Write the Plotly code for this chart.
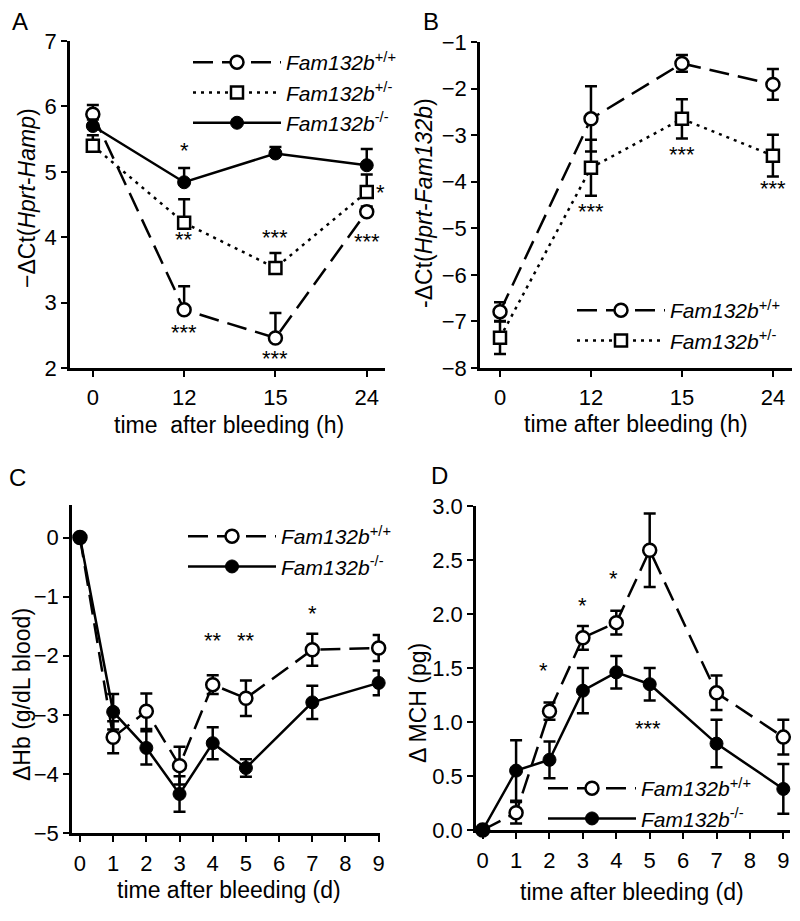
import plotly.graph_objects as go

FONT = "Liberation Sans, Arial, sans-serif"
# the page body has an 8px margin; the figure is sized to fit inside the window
OX, OY = 8, 8
W, H = 784, 905

# ---------------- data ----------------
# Panel A  (-dCt Hprt-Hamp), one-sided (upper) SEM
a_times = ["0", "12", "15", "24"]
a_wt = [5.88, 2.89, 2.46, 4.39]
a_wt_err = [0.14, 0.36, 0.38, 0.08]
a_het = [5.40, 4.22, 3.53, 4.69]
a_het_err = [0.16, 0.36, 0.23, 0.27]
a_ko = [5.70, 4.84, 5.28, 5.10]
a_ko_err = [0.10, 0.22, 0.10, 0.25]

# Panel B  (-dCt Hprt-Fam132b)
b_times = ["0", "12", "15", "24"]
b_wt = [-6.79, -2.65, -1.46, -1.91]
b_wt_err = [0.20, 0.70, 0.18, 0.33]
b_het = [-7.35, -3.70, -2.65, -3.44]
b_het_err = [0.35, 0.60, 0.42, 0.45]

# Panel C  (dHb g/dL blood)
c_days = [0, 1, 2, 3, 4, 5, 7, 9]
c_wt = [0, -3.38, -2.94, -3.86, -2.49, -2.72, -1.90, -1.87]
c_wt_err = [0, 0.27, 0.30, 0.32, 0.16, 0.30, 0.27, 0.22]
c_ko = [0, -2.95, -3.56, -4.34, -3.48, -3.90, -2.79, -2.46]
c_ko_err = [0, 0.30, 0.28, 0.30, 0.27, 0.15, 0.28, 0.21]

# Panel D  (dMCH pg)
d_days = [0, 1, 2, 3, 4, 5, 7, 9]
d_wt = [0, 0.16, 1.10, 1.78, 1.92, 2.59, 1.27, 0.86]
d_wt_err = [0, 0.10, 0.08, 0.11, 0.11, 0.34, 0.16, 0.16]
d_ko = [0, 0.55, 0.65, 1.29, 1.46, 1.35, 0.80, 0.38]
d_ko_err = [0, 0.28, 0.17, 0.21, 0.15, 0.15, 0.22, 0.23]

# significance stars: (x, y, text, xshift)
a_stars = [("12", 5.33, "*", 0), ("12", 3.96, "**", 0), ("15", 3.99, "***", 0),
           ("24", 4.68, "*", 14), ("24", 3.93, "***", 0), ("12", 2.55, "***", 0),
           ("15", 2.15, "***", 0)]
b_stars = [("12", -4.65, "***", 0), ("15", -3.42, "***", 0), ("24", -4.15, "***", 0)]
c_stars = [(4, -1.74, "**", 0), (5, -1.74, "**", 0), (7, -1.29, "*", 0)]
d_stars = [(1.83, 1.48, "*", 0), (3, 2.08, "*", 0), (3.93, 2.33, "*", 0), (4.95, 0.94, "***", 0)]

WT_NAME = "<i>Fam132b</i><sup>+/+</sup>"
HET_NAME = "<i>Fam132b</i><sup>+/-</sup>"
KO_NAME = "<i>Fam132b</i><sup>-/-</sup>"

LW = 2.5
DASH = "20px,9px"
DOT = "3px,5px"


def px_x(p):
    return (p - OX) / W


def px_y(p):
    return 1 - (p - OY) / H


fig = go.Figure()


def add_series(x, y, err, name, kind, xa, ya, leg, one_sided=False):
    if kind == "wt":
        line = dict(color="black", width=LW, dash=DASH)
        marker = dict(symbol="circle", size=13, color="white", line=dict(color="black", width=2.5))
    elif kind == "het":
        line = dict(color="black", width=LW, dash=DOT)
        marker = dict(symbol="square", size=12, color="white", line=dict(color="black", width=2.5))
    else:
        line = dict(color="black", width=LW)
        marker = dict(symbol="circle", size=13, color="black", line=dict(color="black", width=1))
    if one_sided:
        ey = dict(type="data", array=err, arrayminus=[0] * len(err), symmetric=False,
                  color="black", thickness=2.5, width=6)
    else:
        ey = dict(type="data", array=err, color="black", thickness=2.5, width=6)
    fig.add_trace(go.Scatter(x=x, y=y, mode="lines+markers", name=name, line=line,
                             marker=marker, error_y=ey, xaxis=xa, yaxis=ya,
                             legend=leg, cliponaxis=False))


add_series(a_times, a_wt, a_wt_err, WT_NAME, "wt", "x", "y", "legend", True)
add_series(a_times, a_het, a_het_err, HET_NAME, "het", "x", "y", "legend", True)
add_series(a_times, a_ko, a_ko_err, KO_NAME, "ko", "x", "y", "legend", True)

add_series(b_times, b_wt, b_wt_err, WT_NAME, "wt", "x2", "y2", "legend2")
add_series(b_times, b_het, b_het_err, HET_NAME, "het", "x2", "y2", "legend2")

add_series(c_days, c_wt, c_wt_err, WT_NAME, "wt", "x3", "y3", "legend3")
add_series(c_days, c_ko, c_ko_err, KO_NAME, "ko", "x3", "y3", "legend3")

add_series(d_days, d_wt, d_wt_err, WT_NAME, "wt", "x4", "y4", "legend4")
add_series(d_days, d_ko, d_ko_err, KO_NAME, "ko", "x4", "y4", "legend4")

tickfont = dict(family=FONT, size=22, color="black")


def axis(**kw):
    base = dict(showline=True, linewidth=2.5, linecolor="black", ticks="outside",
                ticklen=6, tickwidth=2, tickcolor="black", showgrid=False,
                zeroline=False, tickfont=tickfont, automargin=False, fixedrange=True)
    base.update(kw)
    return base


layout = dict(
    width=W, height=H, margin=dict(l=0, r=0, t=0, b=0),
    paper_bgcolor="white", plot_bgcolor="white",
    font=dict(family=FONT, color="black"),
    showlegend=True,
    xaxis=axis(domain=[px_x(70), px_x(385)], anchor="y", type="category",
               range=[-0.25, 3.2], ticklabelstandoff=2),
    yaxis=axis(domain=[px_y(368), px_y(41)], anchor="x", range=[2, 7], dtick=1),
    xaxis2=axis(domain=[px_x(480), px_x(792)], anchor="y2", type="category",
                range=[-0.22, 3.21], ticklabelstandoff=2),
    yaxis2=axis(domain=[px_y(368), px_y(42)], anchor="x2", range=[-8, -1], dtick=1),
    xaxis3=axis(domain=[px_x(72), px_x(380)], anchor="y3", range=[-0.24, 9.04],
                dtick=1, tick0=0, ticklabelstandoff=3),
    yaxis3=axis(domain=[px_y(833), px_y(505)], anchor="x3", range=[-5, 0.55],
                dtick=1, tick0=0),
    xaxis4=axis(domain=[px_x(476), px_x(790)], anchor="y4", range=[-0.2, 9.2],
                dtick=1, tick0=0, ticklabelstandoff=3),
    yaxis4=axis(domain=[px_y(830), px_y(506)], anchor="x4", range=[0, 3.0],
                dtick=0.5, tick0=0, tickformat=".1f"),
)


def leg(xpx, ypx):
    return dict(x=px_x(xpx), y=px_y(ypx), xanchor="left", yanchor="top",
                bgcolor="rgba(0,0,0,0)", borderwidth=0, itemwidth=88,
                font=dict(family=FONT, size=21, color="black"),
                traceorder="normal", tracegroupgap=0)


layout["legend"] = leg(188, 42)
layout["legend2"] = leg(572, 290)
layout["legend3"] = leg(183, 516)
layout["legend4"] = leg(543, 768)

fig.update_layout(**layout)

annots = []
TF = dict(family=FONT, size=23, color="black")


def star_list(stars, xref, yref, cats=None):
    for x, y, t, xs in stars:
        xv = cats.index(x) if cats is not None else x
        annots.append(dict(x=xv, y=y, xref=xref, yref=yref, text=t, showarrow=False,
                           font=dict(family=FONT, size=22, color="black"),
                           xanchor="center", yanchor="middle", xshift=xs, yshift=0))


star_list(a_stars, "x", "y", a_times)
star_list(b_stars, "x2", "y2", b_times)
star_list(c_stars, "x3", "y3")
star_list(d_stars, "x4", "y4")

# axis titles and panel letters
texts = [
    ("−ΔCt(<i>Hprt</i>-<i>Hamp</i>)", 27, 198, -90),
    ("-ΔCt(<i>Hprt</i>-<i>Fam132b</i>)", 424, 203, -90),
    ("ΔHb (g/dL blood)", 22, 695, -90),
    ("Δ MCH (pg)", 418, 703, -90),
    ("time  after bleeding (h)", 229, 425, 0),
    ("time after bleeding (h)", 636, 424, 0),
    ("time after bleeding (d)", 229, 890, 0),
    ("time after bleeding (d)", 632, 892, 0),
]
for t, xp, yp, ang in texts:
    annots.append(dict(x=px_x(xp), y=px_y(yp), xref="paper", yref="paper", text=t,
                       showarrow=False, font=TF, textangle=ang,
                       xanchor="center", yanchor="middle"))

for t, xp, yp in [("A", 20, 21), ("B", 431, 21), ("C", 17, 477), ("D", 439, 476)]:
    annots.append(dict(x=px_x(xp), y=px_y(yp), xref="paper", yref="paper", text=t,
                       showarrow=False, font=dict(family=FONT, size=24, color="black"),
                       xanchor="center", yanchor="middle"))

fig.update_layout(annotations=annots)

fig.write_html("out.html", include_plotlyjs=True, config={"displayModeBar": False})
